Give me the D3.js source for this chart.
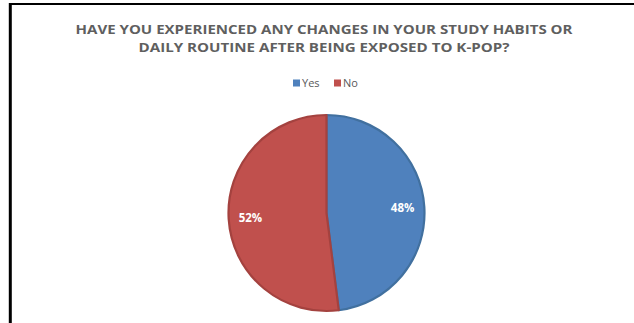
<!DOCTYPE html>
<html>
<head>
<meta charset="utf-8">
<script src="https://cdn.jsdelivr.net/npm/d3@7"></script>
<style>
  html, body { margin: 0; padding: 0; background: #fff; }
  svg { display: block; }
</style>
</head>
<body>
<svg id="chart" width="634" height="323"></svg>
<script>
// Survey answers and their shares (percent)
const categories = ["Yes", "No"];
const values = [48, 52];
const colors = ["#4F81BD", "#C0504D"];
const edgeColors = ["#41709f", "#a4423f"];
const titleLines = [
  "HAVE YOU EXPERIENCED ANY CHANGES IN YOUR STUDY HABITS OR",
  "DAILY ROUTINE AFTER BEING EXPOSED TO K-POP?"
];

const svg = d3.select("#chart");
const W = 634, H = 323;

// frame: top and left rules
svg.append("line").attr("x1", 9).attr("x2", W).attr("y1", 4).attr("y2", 4)
  .attr("stroke", "#000").attr("stroke-width", 2.2);
svg.append("line").attr("x1", 10.3).attr("x2", 10.3).attr("y1", 3).attr("y2", H)
  .attr("stroke", "#000").attr("stroke-width", 3);

// title
const titleFont = "'Open Sans', 'DejaVu Sans', sans-serif";
const titleWidths = [497, 371];
titleLines.forEach((t, i) => {
  svg.append("text")
    .attr("x", 324).attr("y", 33.5 + i * 18.2)
    .attr("text-anchor", "middle")
    .attr("font-family", titleFont)
    .attr("font-weight", 700)
    .attr("font-size", 11.8)
    .attr("fill", "#5f5f5f")
    .attr("textLength", titleWidths[i])
    .attr("lengthAdjust", "spacingAndGlyphs")
    .text(t);
});

// legend
const legendX = [293, 334];
const legend = svg.append("g");
categories.forEach((c, i) => {
  legend.append("rect")
    .attr("x", legendX[i]).attr("y", 79.5)
    .attr("width", 7).attr("height", 7)
    .attr("fill", colors[i]);
  legend.append("text")
    .attr("x", legendX[i] + 9).attr("y", 87)
    .attr("font-family", titleFont)
    .attr("font-size", 11)
    .attr("fill", "#595959")
    .text(c);
});

// pie
const cx = 326.5, cy = 213, r = 99;
const pie = d3.pie().sort(null).value(d => d)(values);
const arc = d3.arc().innerRadius(0).outerRadius(r - 1);
const labelArc = d3.arc().innerRadius(r * 0.77).outerRadius(r * 0.77);

const g = svg.append("g").attr("transform", `translate(${cx},${cy})`);
g.selectAll("path.slice")
  .data(pie)
  .join("path")
  .attr("class", "slice")
  .attr("d", arc)
  .attr("fill", (d, i) => colors[i])
  .attr("stroke", (d, i) => edgeColors[i])
  .attr("stroke-width", 2.2)
  .attr("stroke-linejoin", "round");

g.selectAll("text.lbl")
  .data(pie)
  .join("text")
  .attr("class", "lbl")
  .attr("transform", d => `translate(${labelArc.centroid(d)})`)
  .attr("text-anchor", "middle")
  .attr("dy", "0.36em")
  .attr("font-family", titleFont)
  .attr("font-weight", 700)
  .attr("font-size", 11.5)
  .attr("fill", "#ffffff")
  .text(d => d.data + "%");
</script>
</body>
</html>
